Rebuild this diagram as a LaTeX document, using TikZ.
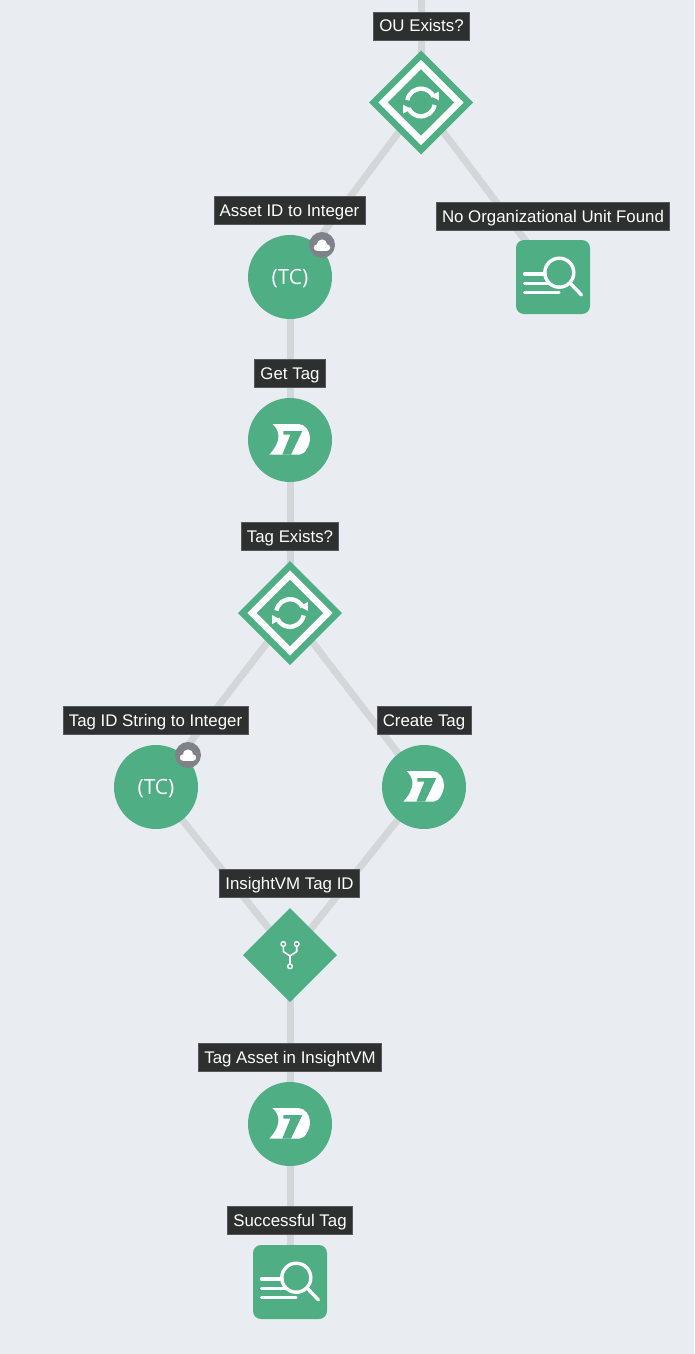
\documentclass[tikz,border=0pt]{standalone}
\usepackage{fontspec}
\setmainfont{Liberation Sans}
\newfontfamily\tcfont{Open Sans}
\usetikzlibrary{shapes.geometric,backgrounds}
\definecolor{pagebg}{HTML}{E9EDF1}
\definecolor{nodegreen}{HTML}{4FAE84}
\definecolor{wire}{HTML}{D3D7DA}
\definecolor{labelbg}{HTML}{2E3030}
\definecolor{labeledge}{HTML}{55585A}
\definecolor{badgegray}{HTML}{7F8389}
\tikzset{
  x=1pt,y=-1pt,
  roundnode/.style={circle,fill=nodegreen,minimum size=84pt,inner sep=0pt,outer sep=0pt},
  bigdiamond/.style={diamond,aspect=1,fill=nodegreen,minimum size=104pt,inner sep=0pt,outer sep=0pt},
  mergediamond/.style={diamond,aspect=1,fill=nodegreen,minimum size=94pt,inner sep=0pt,outer sep=0pt},
  searchbox/.style={rectangle,rounded corners=8pt,fill=nodegreen,minimum size=74pt,inner sep=0pt,outer sep=0pt},
  steplabel/.style={rectangle,fill=labelbg,draw=labeledge,line width=0.6pt,text=white,inner xsep=5.7pt,inner ysep=0pt,
    text height=14pt,text depth=2pt,minimum height=28pt,font=\fontsize{16.85}{18}\selectfont},
  wireline/.style={draw=wire,line width=7pt},
  iconline/.style={draw=white,line width=3.4pt,line cap=round},
  badge/.style={circle,fill=badgegray,minimum size=26pt,inner sep=0pt},
  tclabel/.style={text=white,font=\tcfont\fontsize{21}{23}\selectfont},
}
% ---- icons, drawn at the given centre
\newcommand{\refreshicon}[1]{%
  \begin{scope}[shift={(#1)}]
    \draw[white,line width=6.6pt,line join=miter] (0,-38)--(38,0)--(0,38)--(-38,0)--cycle;
    \draw[white,line width=4.4pt] (-170:13.8) arc (-170:-25:13.8);
    \draw[white,line width=4.4pt] (-350:13.8) arc (-350:-205:13.8);
    \fill[white] (9.5,-6.5)--(17.8,-11)--(17.8,-2.2)--cycle;
    \fill[white] (-9.5,6.5)--(-17.8,11)--(-17.8,2.2)--cycle;
  \end{scope}}
\newcommand{\rapidicon}[1]{%
  \begin{scope}[shift={(#1)}]
    \fill[white] (-17.7,-16)--(8.3,-16) .. controls (15,-16) and (20,-9) .. (20,-2)
      .. controls (20,5) and (15,14.5) .. (10,14.5) -- (-20.5,14.5) .. controls (-15,8) and (-11,2) .. (-11.5,-5) .. controls (-12,-10) and (-15,-14) .. (-17.7,-16)--cycle;
    \fill[nodegreen] (-6.7,-9)--(12.3,-9)--(1,14.6)--(-7.7,14.6)--(0.5,-5.5)--(-6.7,-5.5)--cycle;
  \end{scope}}
\newcommand{\searchicon}[1]{%
  \begin{scope}[shift={(#1)}]
    \draw[iconline] (-28.5,-3)--(-8,-3);
    \draw[iconline] (-28.5,6.3)--(-3,6.3);
    \draw[iconline] (-28.5,15.7)--(6,15.7);
    \draw[white,line width=3.4pt] (6.3,-4.3) circle (14.5);
    \draw[iconline] (17.5,6.5)--(28.5,18);
  \end{scope}}
\newcommand{\mergeicon}[1]{%
  \begin{scope}[shift={(#1)}]
    \draw[white,line width=1.6pt,line join=round] (-6.7,-9)--(-6.7,-3.5)--(0,1)--(6.7,-3.5)--(6.7,-9);
    \draw[white,line width=1.6pt] (0,1)--(0,9);
    \draw[white,line width=1.4pt] (-6.7,-11) circle (2.3);
    \draw[white,line width=1.4pt] (6.7,-11) circle (2.3);
    \draw[white,line width=1.4pt] (0,11.3) circle (2.3);
  \end{scope}}
\newcommand{\cloudicon}[1]{%
  \begin{scope}[shift={(#1)}]
    \fill[white] (-5,2.6) circle (3.2);
    \fill[white] (5,2.6) circle (3.2);
    \fill[white] (0,-0.4) circle (5.2);
    \fill[white] (-5,1.5) rectangle (5,5.8);
  \end{scope}}
\begin{document}
\begin{tikzpicture}
\useasboundingbox (0,0) rectangle (694,1354);
\coordinate (topin) at (421,0);
% nodes
\node[bigdiamond] (ou) at (421,102.5) {};
\node[roundnode] (asset) at (290,277) {};
\node[searchbox] (noorg) at (553,277) {};
\node[roundnode] (gettag) at (290,440) {};
\node[bigdiamond] (tagex) at (290,613) {};
\node[roundnode] (tagid) at (156,787) {};
\node[roundnode] (create) at (424,787) {};
\node[mergediamond] (merge) at (290,955) {};
\node[roundnode] (tagasset) at (290,1124) {};
\node[searchbox] (success) at (290,1282) {};
% background and connectors
\begin{scope}[on background layer]
  \fill[pagebg] (0,0) rectangle (694,1354);
  \draw[wireline] (topin)--(ou.center);
  \draw[wireline] (ou.center)--(asset.center);
  \draw[wireline] (ou.center)--(noorg.center);
  \draw[wireline] (asset.center)--(gettag.center);
  \draw[wireline] (gettag.center)--(tagex.center);
  \draw[wireline] (tagex.center)--(tagid.center);
  \draw[wireline] (tagex.center)--(create.center);
  \draw[wireline] (tagid.center)--(merge.center);
  \draw[wireline] (create.center)--(merge.center);
  \draw[wireline] (merge.center)--(tagasset.center);
  \draw[wireline] (tagasset.center)--(success.center);
\end{scope}
% icons
\refreshicon{ou.center}
\refreshicon{tagex.center}
\rapidicon{gettag.center}
\rapidicon{create.center}
\rapidicon{tagasset.center}
\searchicon{noorg.center}
\searchicon{success.center}
\mergeicon{merge.center}
\node[tclabel] (tc1) at (290,278.5) {(TC)};
\node[tclabel] (tc2) at (156,788.5) {(TC)};
\node[badge] (badge1) at (322,245) {};
\node[badge] (badge2) at (188,755) {};
\cloudicon{badge1.center}
\cloudicon{badge2.center}
% labels
\node[steplabel] (l1) at (421.5,26) {OU Exists?};
\node[steplabel] (l2) at (289.5,210) {Asset ID to Integer};
\node[steplabel] (l3) at (553,216) {No Organizational Unit Found};
\node[steplabel] (l4) at (290,373) {Get Tag};
\node[steplabel] (l5) at (290,536) {Tag Exists?};
\node[steplabel] (l6) at (155.5,720) {Tag ID String to Integer};
\node[steplabel] (l7) at (424,720) {Create Tag};
\node[steplabel] (l8) at (289.5,883) {InsightVM Tag ID};
\node[steplabel] (l9) at (290,1057) {Tag Asset in InsightVM};
\node[steplabel] (l10) at (290,1220) {Successful Tag};
\end{tikzpicture}
\end{document}
